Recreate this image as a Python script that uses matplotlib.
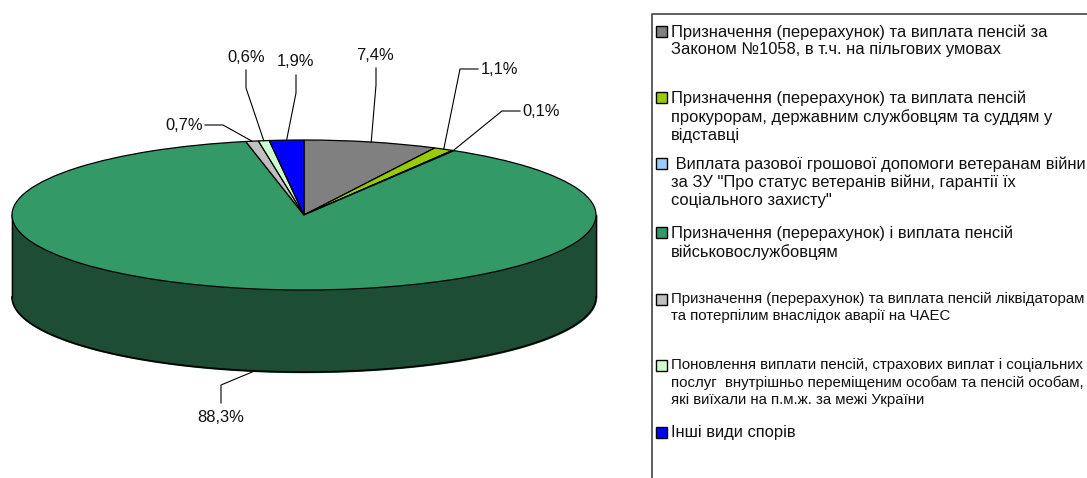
#!/usr/bin/env python3

import numpy as np
import matplotlib.pyplot as plt
from matplotlib.patches import Rectangle

plt.rcParams['font.family'] = ['Liberation Sans', 'DejaVu Sans']

labels = [
    'Призначення (перерахунок) та виплата пенсій за\nЗаконом №1058, в т.ч. на пільгових умовах',
    'Призначення (перерахунок) та виплата пенсій\nпрокурорам, державним службовцям та суддям у\nвідставці',
    ' Виплата разової грошової допомоги ветеранам війни\nза ЗУ "Про статус ветеранів війни, гарантії їх\nсоціального захисту"',
    'Призначення (перерахунок) і виплата пенсій\nвійськовослужбовцям',
    'Призначення (перерахунок) та виплата пенсій ліквідаторам\nта потерпілим внаслідок аварії на ЧАЕС',
    'Поновлення виплати пенсій, страхових виплат і соціальних\nпослуг  внутрішньо переміщеним особам та пенсій особам,\nякі виїхали на п.м.ж. за межі України',
    'Інші види спорів',
]
values = [7.4, 1.1, 0.1, 88.3, 0.7, 0.6, 1.9]
value_text = ['7,4%', '1,1%', '0,1%', '88,3%', '0,7%', '0,6%', '1,9%']
colors = ['#808080', '#99CC00', '#99CCFF', '#339966', '#C0C0C0', '#CCFFCC', '#0000FF']
side_color = '#1E4D36'

# layout, in pixels of the 1087x478 picture
W, H = 1087, 478
cx, cy, rx, ry, depth = 304, 215, 292, 75, 82

# text anchor, elbow and alignment of each data label
label_pos = [
    ((375, 55), [(376, 68), (376, 85)], 'center'),
    ((481, 69), [(478, 69), (460, 69)], 'left'),
    ((522, 111), [(520, 111), (502, 111)], 'left'),
    ((221, 417), [(221, 403), (221, 385)], 'center'),
    ((165, 125), [(205, 125), (223, 125)], 'left'),
    ((246, 57), [(246, 70), (246, 88)], 'center'),
    ((296, 61), [(296, 75), (296, 93)], 'center'),
]
# legend: centre of swatch row, font size, line spacing
legend_y = [31, 97, 163, 232, 299, 365, 432]
legend_size = [11.9, 11.9, 11.9, 11.9, 10.8, 10.8, 11.9]
legend_spacing = [1.17, 1.25, 1.25, 1.3, 1.28, 1.28, 1.1]


def plot():
    fig = plt.figure(figsize=(W / 100, H / 100), dpi=100)

    # pie on its own axes, squashed to an ellipse by the axes shape
    xlim = (-1.02, 1.02)
    ylim = (-1 - depth / ry - 0.02, 1.02)
    left = (cx + xlim[0] * rx) / W
    bottom = 1 - (cy - ylim[0] * ry) / H
    pie_ax = fig.add_axes([left, bottom, (xlim[1] - xlim[0]) * rx / W,
                           (ylim[1] - ylim[0]) * ry / H])
    t = np.linspace(np.pi, 2 * np.pi, 200)
    pie_ax.fill_between(np.cos(t), np.sin(t), np.sin(t) - depth / ry,
                        color=side_color, zorder=0)
    pie_ax.plot(np.cos(t), np.sin(t) - depth / ry, color='black', lw=1.2, zorder=1)
    pie_ax.plot([-1, -1], [0, -depth / ry], color='black', lw=1, zorder=1)
    pie_ax.plot([1, 1], [0, -depth / ry], color='black', lw=1, zorder=1)
    pie_ax.pie(values, colors=colors, startangle=90, counterclock=False,
               wedgeprops={'edgecolor': 'black', 'linewidth': 0.9, 'zorder': 2})
    pie_ax.set_aspect('auto')
    pie_ax.set_xlim(xlim)
    pie_ax.set_ylim(ylim)

    # overlay in pixel coordinates for labels and legend
    ax = fig.add_axes([0, 0, 1, 1], facecolor='none')
    ax.set_xlim(0, W)
    ax.set_ylim(H, 0)
    ax.axis('off')

    shares = np.array(values) / sum(values)
    mids = (np.cumsum(shares) - shares / 2) * 2 * np.pi
    for i, (pos, elbow, ha) in enumerate(label_pos):
        ax.text(pos[0], pos[1], value_text[i], fontsize=11.9, ha=ha, va='center',
                color='#111111')
        x_end = cx + rx * np.sin(mids[i])
        y_end = cy - ry * np.cos(mids[i])
        if np.cos(mids[i]) < 0:
            y_end += depth
        xs = [p[0] for p in elbow] + [x_end]
        ys = [p[1] for p in elbow] + [y_end]
        ax.plot(xs, ys, color='black', lw=0.8)

    # legend box, cut by the bottom and right edges of the picture
    ax.plot([W, 652, 652], [14, 14, H], color='#444444', lw=1.2, clip_on=False)
    for i, label in enumerate(labels):
        ax.add_patch(Rectangle((656, legend_y[i] - 5.5), 11, 11, facecolor=colors[i],
                               edgecolor='black', lw=1))
        ax.text(671, legend_y[i] - 7, label, fontsize=legend_size[i], ha='left', va='top',
                linespacing=legend_spacing[i], color='#111111')

    plt.savefig('out.png', dpi=100)


if __name__ == '__main__':
    plot()
